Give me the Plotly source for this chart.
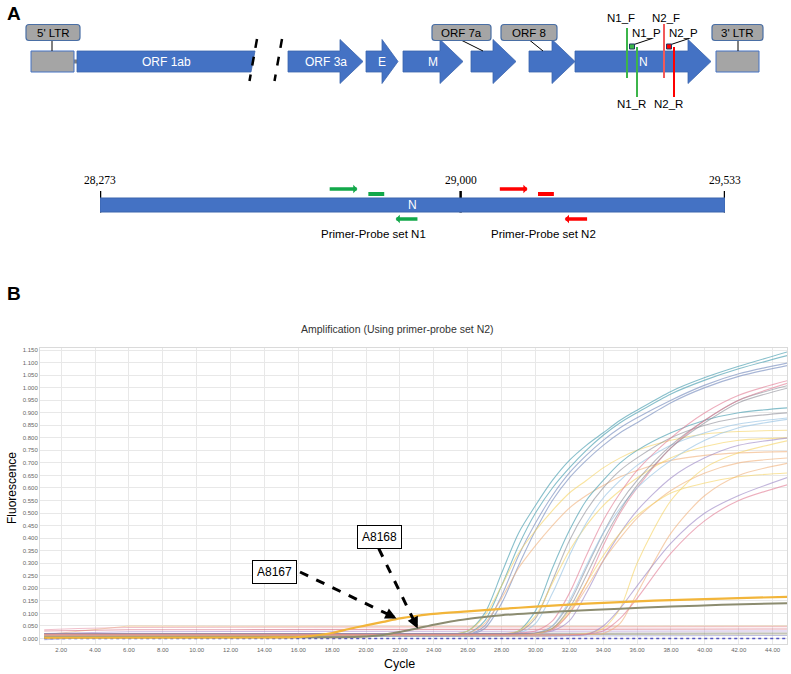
import plotly.graph_objects as go


# ======================================
# PANEL A : GENOME MAP (schematic units)
# ======================================

GENE_NAMES = ["ORF 1ab", "ORF 3a", "E", "M", "ORF 7a", "ORF 8", "N"]
GENE_START = [77, 288, 366, 403, 471, 529, 575]
GENE_END = [255, 363, 398, 463, 516, 575, 711]
GENE_LABEL_INSIDE = [True, True, True, True, False, False, True]

LTR_NAMES = ["5' LTR", "3' LTR"]
LTR_START = [31, 716]
LTR_END = [74, 759]

PRIMER_MARKS = ["N1_F", "N1_P", "N1_R", "N2_F", "N2_P", "N2_R"]
PRIMER_MARK_X = [627, 632, 637, 664, 669, 674]

# N gene zoom (genome coordinates)
N_TICKS = [28273, 29000, 29533]
N1_FWD = [28733, 28792]
N1_PROBE = [28814, 28846]
N1_REV = [28916, 28869]
N2_FWD = [29076, 29135]
N2_PROBE = [29156, 29188]
N2_REV = [29258, 29210]


# ======================================
# PANEL B : AMPLIFICATION CURVES
# ======================================

X_TICKS = [2, 4, 6, 8, 10, 12, 14, 16, 18, 20, 22, 24, 26, 28, 30, 32, 34, 36, 38, 40, 42, 44]

CYC = [1, 20, 24, 26, 27, 28, 29, 30, 31, 32, 33, 34, 35, 36, 38, 40, 42, 45]

TEAL_A = [0.010, 0.010, 0.012, 0.030, 0.100, 0.260, 0.420, 0.530, 0.630, 0.710, 0.770, 0.820, 0.870, 0.910, 0.985, 1.040, 1.085, 1.145]
TEAL_B = [0.008, 0.008, 0.010, 0.020, 0.070, 0.210, 0.370, 0.500, 0.600, 0.680, 0.750, 0.810, 0.860, 0.900, 0.975, 1.030, 1.075, 1.130]
BLUE_C = [0.010, 0.010, 0.010, 0.015, 0.050, 0.170, 0.330, 0.460, 0.570, 0.660, 0.730, 0.790, 0.840, 0.880, 0.950, 1.010, 1.055, 1.100]
BLUE_D = [0.012, 0.012, 0.012, 0.014, 0.040, 0.140, 0.290, 0.430, 0.550, 0.640, 0.710, 0.770, 0.820, 0.860, 0.940, 1.000, 1.045, 1.090]
YELLOW_E = [0.010, 0.010, 0.012, 0.030, 0.090, 0.210, 0.340, 0.430, 0.510, 0.580, 0.630, 0.680, 0.720, 0.750, 0.790, 0.815, 0.825, 0.830]
PEACH_F = [0.012, 0.012, 0.013, 0.020, 0.060, 0.160, 0.280, 0.370, 0.450, 0.520, 0.570, 0.610, 0.645, 0.670, 0.710, 0.730, 0.740, 0.745]
TEAL_G = [0.010, 0.010, 0.010, 0.010, 0.012, 0.015, 0.030, 0.110, 0.280, 0.430, 0.550, 0.630, 0.700, 0.750, 0.820, 0.870, 0.900, 0.920]
GRAY_H = [0.012, 0.012, 0.012, 0.012, 0.013, 0.015, 0.025, 0.080, 0.230, 0.390, 0.510, 0.600, 0.670, 0.720, 0.800, 0.850, 0.880, 0.900]
YELLOW_I = [0.015, 0.015, 0.015, 0.015, 0.016, 0.018, 0.030, 0.090, 0.220, 0.350, 0.450, 0.530, 0.590, 0.640, 0.720, 0.765, 0.790, 0.800]
LBLUE_J = [0.010, 0.010, 0.010, 0.010, 0.010, 0.012, 0.020, 0.060, 0.180, 0.330, 0.460, 0.560, 0.630, 0.690, 0.770, 0.820, 0.855, 0.880]
PINK_K = [0.020, 0.020, 0.020, 0.020, 0.020, 0.020, 0.022, 0.030, 0.070, 0.180, 0.330, 0.470, 0.580, 0.670, 0.800, 0.900, 0.970, 1.030]
GRAY_L = [0.015, 0.015, 0.015, 0.015, 0.015, 0.015, 0.016, 0.020, 0.050, 0.140, 0.280, 0.420, 0.540, 0.630, 0.770, 0.870, 0.950, 1.010]
PINK_M = [0.018, 0.018, 0.018, 0.018, 0.018, 0.018, 0.018, 0.020, 0.035, 0.100, 0.220, 0.370, 0.500, 0.600, 0.760, 0.870, 0.950, 1.020]
LBLUE_N = [0.010, 0.010, 0.010, 0.010, 0.010, 0.010, 0.012, 0.018, 0.050, 0.150, 0.290, 0.420, 0.520, 0.600, 0.710, 0.790, 0.840, 0.875]
PURPLE_O = [0.020, 0.020, 0.020, 0.020, 0.020, 0.020, 0.020, 0.022, 0.030, 0.070, 0.180, 0.310, 0.420, 0.510, 0.640, 0.720, 0.770, 0.800]
PEACH_P = [0.015, 0.015, 0.015, 0.015, 0.015, 0.015, 0.015, 0.020, 0.040, 0.100, 0.200, 0.310, 0.400, 0.480, 0.590, 0.660, 0.700, 0.720]
YELLOW_Q = [0.012, 0.012, 0.012, 0.012, 0.012, 0.012, 0.013, 0.018, 0.040, 0.110, 0.220, 0.330, 0.420, 0.490, 0.580, 0.620, 0.645, 0.660]
GRAY_X = [0.020, 0.020, 0.020, 0.020, 0.020, 0.020, 0.020, 0.022, 0.040, 0.120, 0.250, 0.390, 0.510, 0.610, 0.760, 0.860, 0.940, 1.000]
YELLOW_U = [0.010, 0.010, 0.010, 0.010, 0.010, 0.010, 0.010, 0.010, 0.012, 0.015, 0.020, 0.040, 0.120, 0.300, 0.550, 0.680, 0.740, 0.790]
PEACH_V = [0.012, 0.012, 0.012, 0.012, 0.012, 0.012, 0.012, 0.012, 0.012, 0.014, 0.016, 0.020, 0.060, 0.180, 0.420, 0.570, 0.650, 0.700]
PURPLE_S = [0.010, 0.010, 0.010, 0.010, 0.010, 0.010, 0.010, 0.010, 0.010, 0.012, 0.015, 0.050, 0.120, 0.210, 0.380, 0.500, 0.570, 0.645]
PINK_T = [0.015, 0.015, 0.015, 0.015, 0.015, 0.015, 0.015, 0.015, 0.015, 0.015, 0.018, 0.030, 0.080, 0.160, 0.340, 0.470, 0.550, 0.615]

# flat (negative) wells
FLAT_CYC = [1, 3, 6, 12, 20, 30, 45]
FLAT_PEACH = [0.015, 0.030, 0.050, 0.049, 0.048, 0.049, 0.050]
FLAT_PINK = [0.035, 0.040, 0.044, 0.044, 0.045, 0.046, 0.047]
FLAT_RED = [0.030, 0.033, 0.035, 0.035, 0.036, 0.037, 0.038]
FLAT_PURPLE = [0.020, 0.024, 0.027, 0.028, 0.028, 0.029, 0.030]
FLAT_GRAY = [0.010, 0.015, 0.018, 0.019, 0.020, 0.021, 0.022]
FLAT_OLIVE = [0.005, 0.010, 0.012, 0.013, 0.014, 0.016, 0.018]
FLAT_LAV = [-0.005, 0.002, 0.006, 0.008, 0.009, 0.010, 0.012]
FLAT_NAVY = [0.000, 0.000, 0.000, 0.000, 0.000, 0.000, 0.000]

# annotated samples
A8167_CYC = [1, 14, 16, 17, 18, 19, 20, 21, 22, 23, 24, 26, 28, 30, 32, 34, 36, 38, 40, 42, 45]
A8167_VAL = [0.003, 0.004, 0.006, 0.012, 0.022, 0.038, 0.052, 0.066, 0.080, 0.090, 0.098, 0.108, 0.118, 0.127,
             0.135, 0.142, 0.148, 0.153, 0.157, 0.161, 0.166]
A8168_CYC = [1, 18, 20, 21, 22, 23, 24, 25, 26, 27, 28, 30, 32, 35, 38, 41, 45]
A8168_VAL = [0.004, 0.005, 0.008, 0.014, 0.026, 0.040, 0.055, 0.068, 0.078, 0.086, 0.093, 0.102, 0.110, 0.119,
             0.127, 0.134, 0.141]

ANNOT_LABELS = ["A8167", "A8168"]
ANNOT_TIP_CYC = [21.8, 23.05]
ANNOT_TIP_VAL = [0.080, 0.040]
ANNOT_BOX_CYC = [14.6, 20.8]
ANNOT_BOX_VAL = [0.265, 0.405]
ANNOT_TAIL_CYC = [16.1, 20.75]
ANNOT_TAIL_VAL = [0.265, 0.358]


FONT = "Arial, Liberation Sans, sans-serif"
SERIF = "Times New Roman, Liberation Serif, serif"
W, H = 791, 674

fig = go.Figure()
shapes = []
annotations = []


def seg(x0, y0, x1, y1, color, width, xref="x2", yref="y2", dash=None):
    shapes.append(dict(type="line", xref=xref, yref=yref, x0=x0, y0=y0, x1=x1, y1=y1,
                       line=dict(color=color, width=width, dash=dash)))


def label(x, y, text, size=11.5, color="black", xref="x2", yref="y2", family=FONT):
    annotations.append(dict(x=x, y=y, xref=xref, yref=yref, text=text, showarrow=False,
                            xanchor="center", yanchor="middle",
                            font=dict(family=family, size=size, color=color)))


def paper_label(px, py, text, size, color="black", angle=0):
    annotations.append(dict(x=px / W, y=1 - py / H, xref="paper", yref="paper", text=text,
                            showarrow=False, xanchor="center", yanchor="middle", textangle=angle,
                            font=dict(family=FONT, size=size, color=color)))


def rounded_box(x0, y0, x1, y1, r=3):
    return (f"M {x0 + r},{y0} L {x1 - r},{y0} Q {x1},{y0} {x1},{y0 + r} "
            f"L {x1},{y1 - r} Q {x1},{y1} {x1 - r},{y1} L {x0 + r},{y1} "
            f"Q {x0},{y1} {x0},{y1 - r} L {x0},{y0 + r} Q {x0},{y0} {x0 + r},{y0} Z")


# =========================
# GENOME TRACK
# =========================

BODY_T, BODY_B, MID = 51, 72, 61.5

# backbone
fig.add_trace(go.Scatter(
    x=[LTR_END[0], GENE_END[0] - 3, None, GENE_END[0] + 20, LTR_START[1]],
    y=[MID, MID, None, MID, MID],
    xaxis="x2", yaxis="y2", mode="lines",
    line=dict(color="#808080", width=4), hoverinfo="skip", showlegend=False
))

for name, s, e, inside in zip(GENE_NAMES, GENE_START, GENE_END, GENE_LABEL_INSIDE):
    if name == "ORF 1ab":
        path = f"M {s},{BODY_T} L {e},{BODY_T} L {e - 4},{BODY_B} L {s},{BODY_B} Z"
    else:
        head = 16 if e - s < 40 else 23
        h = e - head
        path = (f"M {s},{BODY_T} L {h},{BODY_T} L {h},39.5 L {e},{MID} "
                f"L {h},83.5 L {h},{BODY_B} L {s},{BODY_B} Z")
    shapes.append(dict(type="path", xref="x2", yref="y2", path=path,
                       fillcolor="#4472c4", line=dict(color="#3b64ad", width=0.8)))
    if inside:
        label((s + e) / 2, MID, name, size=12, color="white")

# break marks
seg(GENE_END[0] + 2, 39, GENE_END[0] - 5.5, 81, "black", 2.5, dash="dash")
seg(GENE_END[0] + 27, 39, GENE_END[0] + 19.5, 81, "black", 2.5, dash="dash")

for name, s, e in zip(LTR_NAMES, LTR_START, LTR_END):
    shapes.append(dict(type="rect", xref="x2", yref="y2", x0=s, x1=e, y0=BODY_T, y1=BODY_B,
                       fillcolor="#a5a5a5", line=dict(color="#4472c4", width=1)))

# callouts
CALLOUT_TEXT = ["5' LTR", "ORF 7a", "ORF 8", "3' LTR"]
CALLOUT_BOX = [(26, 80), (432, 491), (501, 557), (712, 763)]
CALLOUT_LINK = [(52, 52), (462, 483), (530, 543), (738, 738)]
for text, (bx0, bx1), (lx0, lx1) in zip(CALLOUT_TEXT, CALLOUT_BOX, CALLOUT_LINK):
    seg(lx0, 40.5, lx1, BODY_T, "black", 1)
    shapes.append(dict(type="path", xref="x2", yref="y2", path=rounded_box(bx0, 24.5, bx1, 40.5),
                       fillcolor="#a5a5a5", line=dict(color="#4a6fa5", width=1.2)))
    label((bx0 + bx1) / 2, 32.5, text, size=11.5)

# primer / probe marks on N gene
GREEN, RED, RED_L = "#3cb54a", "#ff0000", "#f25a5a"
mark_color = [GREEN, GREEN, GREEN, RED_L, RED, RED]
for name, x, c in zip(PRIMER_MARKS, PRIMER_MARK_X, mark_color):
    if name.endswith("_F"):
        seg(x, 28 if name.startswith("N1") else 24, x, 78, c, 2)
        label(x - 6 if name.startswith("N1") else x + 2, 18, name, size=11.5)
    elif name.endswith("_R"):
        seg(x, 47, x, 97, c, 2)
        label(x - 6, 104, name, size=11.5)
    else:
        seg(x + 2, 44.5, x + 20, 38.5, "black", 1)
        shapes.append(dict(type="rect", xref="x2", yref="y2", x0=x - 2.5, x1=x + 2.5, y0=44, y1=49,
                           fillcolor=c, line=dict(color="#1f3864", width=1)))
        label(x + 14, 33, name, size=11.5)

# zoom wedge
n_px = [100, 725]
shapes.append(dict(type="path", xref="x2", yref="y2", layer="below",
                   path=(f"M {GENE_START[-1]},110 L {GENE_END[-1]},110 L {n_px[1] - 3},166 "
                         f"L {n_px[0]},166 Z"),
                   fillcolor="#d0d0d0", line=dict(width=0)))

# =========================
# N GENE ZOOM BAR
# =========================

shapes.append(dict(type="rect", xref="x3", yref="y2", x0=N_TICKS[0], x1=N_TICKS[-1], y0=198, y1=212,
                   fillcolor="#4472c4", line=dict(color="#3b64ad", width=1)))

tick_x, tick_y = [], []
for t in N_TICKS:
    tick_x += [t, t, None]
    tick_y += [191, 212.5, None]
    label(t, 180, f"{t:,}", size=11.5, xref="x3", family=SERIF)
fig.add_trace(go.Scatter(x=tick_x, y=tick_y, xaxis="x3", yaxis="y2", mode="lines",
                         line=dict(color="black", width=2.5), hoverinfo="skip", showlegend=False))
label(28903, 205, "N", size=12, color="white", xref="x3")

for fwd, probe, rev, col, setname in [(N1_FWD, N1_PROBE, N1_REV, "#12a84a", "N1"),
                                      (N2_FWD, N2_PROBE, N2_REV, "#ff0000", "N2")]:
    for a, yy in [(fwd, 189), (rev, 219)]:
        annotations.append(dict(x=a[1], y=yy, ax=a[0], ay=yy, xref="x3", yref="y2",
                                axref="x3", ayref="y2", text="", showarrow=True,
                                arrowhead=1, arrowsize=0.4, arrowwidth=3.5, arrowcolor=col))
    seg(probe[0], 194, probe[1], 194, col, 4, xref="x3")
    label((fwd[0] + rev[0]) / 2, 233.5, f"Primer-Probe set {setname}", size=11.5, xref="x3")


# =========================
# AMPLIFICATION TRACES
# =========================

TEAL = "rgba(95,170,185,0.75)"
BLUEG = "rgba(130,150,195,0.7)"
YEL = "rgba(245,210,95,0.6)"
PEACH = "rgba(240,175,120,0.6)"
GRAY = "rgba(140,140,150,0.6)"
LBLUE = "rgba(160,200,230,0.7)"
PINK = "rgba(225,120,145,0.6)"
PURP = "rgba(160,140,200,0.65)"

flat = [(FLAT_PEACH, "rgba(240,200,150,0.7)"), (FLAT_PINK, "rgba(230,150,170,0.6)"),
        (FLAT_RED, "rgba(210,90,110,0.55)"), (FLAT_PURPLE, "rgba(170,140,210,0.6)"),
        (FLAT_GRAY, "rgba(130,130,130,0.6)"), (FLAT_OLIVE, "rgba(150,150,110,0.6)"),
        (FLAT_LAV, "rgba(150,150,200,0.6)")]
for vals, col in flat:
    fig.add_trace(go.Scatter(x=FLAT_CYC, y=vals, mode="lines", line=dict(color=col, width=1.1),
                             hoverinfo="skip", showlegend=False))
fig.add_trace(go.Scatter(x=FLAT_CYC, y=FLAT_NAVY, mode="lines",
                         line=dict(color="rgba(70,70,190,0.9)", width=1.6, dash="dot"),
                         hoverinfo="skip", showlegend=False))

rising = [(TEAL_A, TEAL), (TEAL_B, TEAL), (BLUE_C, BLUEG), (BLUE_D, BLUEG), (YELLOW_E, YEL),
          (PEACH_F, PEACH), (TEAL_G, TEAL), (GRAY_H, GRAY), (YELLOW_I, YEL), (LBLUE_J, LBLUE),
          (PINK_K, PINK), (GRAY_L, GRAY), (PINK_M, PINK), (LBLUE_N, LBLUE), (PURPLE_O, PURP),
          (PEACH_P, PEACH), (YELLOW_Q, YEL), (GRAY_X, GRAY), (YELLOW_U, YEL), (PEACH_V, PEACH),
          (PURPLE_S, PURP), (PINK_T, PINK)]
for vals, col in rising:
    fig.add_trace(go.Scatter(x=CYC, y=vals, mode="lines",
                             line=dict(color=col, width=1.1, shape="spline", smoothing=0.8),
                             hoverinfo="skip", showlegend=False))

fig.add_trace(go.Scatter(x=A8168_CYC, y=A8168_VAL, mode="lines", name="A8168",
                         line=dict(color="#8c8c70", width=2, shape="spline", smoothing=0.8),
                         showlegend=False))
fig.add_trace(go.Scatter(x=A8167_CYC, y=A8167_VAL, mode="lines", name="A8167",
                         line=dict(color="#f2b53a", width=2.2, shape="spline", smoothing=0.8),
                         showlegend=False))

for i, name in enumerate(ANNOT_LABELS):
    tx, ty = ANNOT_TIP_CYC[i], ANNOT_TIP_VAL[i]
    sx, sy = ANNOT_TAIL_CYC[i], ANNOT_TAIL_VAL[i]
    ex, ey = tx + (sx - tx) * 0.08, ty + (sy - ty) * 0.08
    seg(sx, sy, ex, ey, "black", 3, xref="x", yref="y", dash="dash")
    annotations.append(dict(x=tx, y=ty, ax=tx + (sx - tx) * 0.12, ay=ty + (sy - ty) * 0.12,
                            xref="x", yref="y", axref="x", ayref="y", text="", showarrow=True,
                            arrowhead=2, arrowsize=0.75, arrowwidth=3, arrowcolor="black"))
    annotations.append(dict(x=ANNOT_BOX_CYC[i], y=ANNOT_BOX_VAL[i], xref="x", yref="y", text=name,
                            showarrow=False, bgcolor="white", bordercolor="black", borderwidth=1,
                            borderpad=4, font=dict(family=FONT, size=12, color="black")))

# panel labels and titles
paper_label(14, 13, "<b>A</b>", 19)
paper_label(14, 293, "<b>B</b>", 19)
paper_label(398, 329, "Amplification (Using primer-probe set N2)", 10.5, "#333333")
paper_label(12, 488, "Fluorescence", 12, angle=-90)
paper_label(399, 664, "Cycle", 12.5)


# =========================
# STYLE
# =========================

fig.update_layout(
    width=W, height=H,
    margin=dict(l=0, r=0, t=0, b=0),
    paper_bgcolor="white", plot_bgcolor="white",
    shapes=shapes, annotations=annotations,
    xaxis=dict(domain=[40 / W, 787 / W], range=[0.75, 44.85], anchor="y",
               tickmode="array", tickvals=X_TICKS, tickformat=".2f",
               tickfont=dict(family=FONT, size=6, color="#666"),
               showgrid=True, gridcolor="#e8e8e8", zeroline=False,
               showline=True, linecolor="#dadada", mirror=True),
    yaxis=dict(domain=[1 - 644 / H, 1 - 348 / H], range=[-0.022, 1.158], anchor="x",
               tick0=0, dtick=0.05, tickformat=".3f",
               tickfont=dict(family=FONT, size=6, color="#666"),
               showgrid=True, gridcolor="#e8e8e8", zeroline=False,
               showline=True, linecolor="#dadada", mirror=True),
    xaxis2=dict(domain=[0, 1], range=[0, W], anchor="y2", visible=False),
    yaxis2=dict(domain=[1 - 250 / H, 1], range=[250, 0], anchor="x2", visible=False),
    xaxis3=dict(domain=[n_px[0] / W, n_px[1] / W], range=[N_TICKS[0], N_TICKS[-1]],
                anchor="y2", visible=False),
)

fig.write_html("out.html", config={"displayModeBar": False},
               post_script="document.body.style.margin='0';")
